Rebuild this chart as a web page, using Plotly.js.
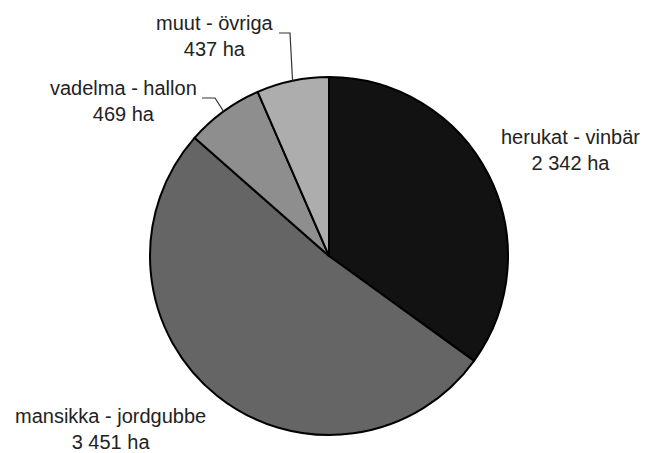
<!DOCTYPE html>
<html>
<head>
<meta charset="utf-8">
<script src="https://cdn.plot.ly/plotly-3.0.1.min.js"></script>
<style>html,body{margin:0;padding:0;background:#fff;}#chart{width:646px;height:453px;}</style>
</head>
<body>
<div id="chart"></div>
<script>
const categories = ["herukat - vinbär", "mansikka - jordgubbe", "vadelma - hallon", "muut - övriga"];
const areas = [2342, 3451, 469, 437];
const unit = "ha";
const colors = ["#121212", "#656565", "#8e8e8e", "#adadad"];

const W = 646, H = 453;
const cx = 329, cy = 256, R = 179;
const px = x => x / W;
const py = y => 1 - y / H;

function fmt(v) { return String(v).replace(/\B(?=(\d{3})+(?!\d))/g, " "); }

// label text positions (pixels) and elbow points for leader lines
const labelPos = [[570, 150], [110, 429], [123, 101], [215, 36]];
const elbows = [null, null, [[215, 98], [202, 98]], [[290, 33], [279, 33]]];

const total = areas.reduce((a, b) => a + b, 0);
let cum = 0;
const shapes = [];
const annotations = [];
areas.forEach((v, i) => {
  const mid = (cum + v / 2) / total * 2 * Math.PI;
  cum += v;
  annotations.push({
    x: px(labelPos[i][0]), y: py(labelPos[i][1]), xref: "paper", yref: "paper",
    text: categories[i] + "<br>" + fmt(v) + " " + unit,
    showarrow: false, xanchor: "center", yanchor: "middle", align: "center",
    font: {family: "Liberation Sans, Arial, sans-serif", size: 20, color: "#222"}
  });
  if (elbows[i]) {
    const ex = cx + R * Math.sin(mid), ey = cy - R * Math.cos(mid);
    const pts = [[ex, ey]].concat(elbows[i]);
    const path = pts.map((p, k) => (k ? "L" : "M") + px(p[0]) + "," + py(p[1])).join(" ");
    shapes.push({type: "path", xref: "paper", yref: "paper", path: path,
      line: {color: "#333", width: 1.2}});
  }
});

const data = [{
  type: "pie",
  labels: categories,
  values: areas,
  sort: false,
  direction: "clockwise",
  rotation: 0,
  textinfo: "none",
  hoverinfo: "none",
  marker: {colors: colors, line: {color: "#000", width: 2}},
  domain: {x: [px(cx - R), px(cx + R)], y: [py(cy + R), py(cy - R)]},
  showlegend: false
}];

const layout = {
  width: W, height: H,
  margin: {l: 0, r: 0, t: 0, b: 0},
  paper_bgcolor: "#fff",
  showlegend: false,
  shapes: shapes,
  annotations: annotations
};

Plotly.newPlot("chart", data, layout, {displayModeBar: false, staticPlot: true});
</script>
</body>
</html>
